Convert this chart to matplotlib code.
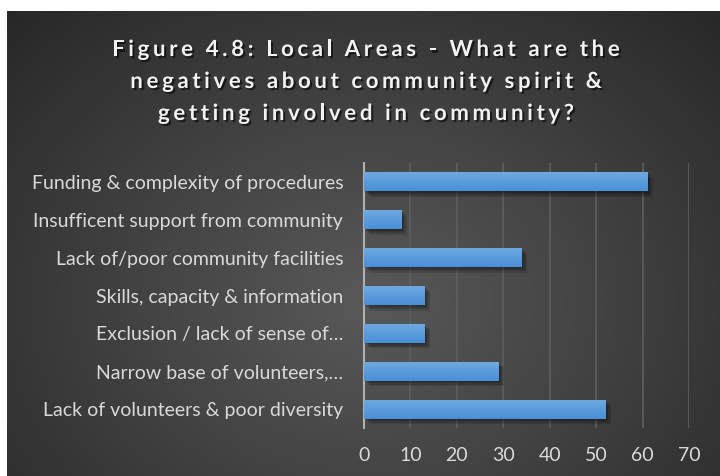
import matplotlib.pyplot as plt
import matplotlib.patheffects as pe
import numpy as np

categories = [
    "Funding & complexity of procedures",
    "Insufficent support from community",
    "Lack of/poor community facilities",
    "Skills, capacity & information",
    "Exclusion / lack of sense of…",
    "Narrow base of volunteers,…",
    "Lack of volunteers & poor diversity",
]
values = [61, 8, 34, 13, 13, 29, 52]
x_ticks = [0, 10, 20, 30, 40, 50, 60, 70]
title_lines = [
    "Figure 4.8: Local Areas - What are the",
    "negatives about community spirit &",
    "getting involved in community?",
]

plt.rcParams['font.family'] = ['Lato', 'DejaVu Sans']

W, H = 720, 476
fig = plt.figure(figsize=(W / 100, H / 100), dpi=100, facecolor='white')

# dark radial gradient panel
bg = fig.add_axes([7 / W, 0, (W - 7) / W, (H - 11) / H])
gy, gx = np.mgrid[0:465, 0:713]
r = np.hypot((gx - 360) / 520, (gy - 290) / 420)
shade = np.clip(0.35 - 0.2 * r, 0.15, 0.35)
bg.imshow(np.dstack([shade] * 3), aspect='auto', interpolation='bilinear')
bg.axis('off')

ax = fig.add_axes([364 / W, 48 / H, 325 / W, 265 / H])
ax.set_facecolor('none')
ypos = np.arange(len(categories))
soft = [pe.SimplePatchShadow(offset=(d, -d), shadow_rgbFace='black', alpha=0.13) for d in (1, 2, 3, 4)]
bars = ax.barh(ypos, values, height=0.5, color='#5b9bd5', zorder=3,
               path_effects=soft + [pe.Normal()])
# soft top-to-bottom shading on each bar
grad = np.linspace(0, 1, 50)[:, None]
blue = np.array([0.43, 0.66, 0.88]) * (1 - grad[..., None]) + np.array([0.29, 0.56, 0.84]) * grad[..., None]
for b in bars:
    img = ax.imshow(np.repeat(blue, 2, axis=1), aspect='auto', zorder=4,
                    extent=[0, b.get_width(), b.get_y() + b.get_height(), b.get_y()])
    img.set_clip_path(b)

ax.set_xlim(0, 70)
ax.set_ylim(len(categories) - 0.5, -0.5)
ax.set_xticks(x_ticks)
ax.set_yticks(ypos)
ax.set_yticklabels(categories)
ax.xaxis.grid(True, color='#5e5e5e', linewidth=1.2, zorder=0)
ax.set_axisbelow(True)
for s in ['top', 'right', 'bottom']:
    ax.spines[s].set_visible(False)
ax.spines['left'].set_color('#b0b0b0')
ax.spines['left'].set_linewidth(1.5)
ax.tick_params(axis='both', length=0, colors='#d9d9d9', labelsize=14)
ax.tick_params(axis='y', pad=15)
ax.tick_params(axis='x', pad=14)

# letter-spaced title with drop shadow
renderer = fig.canvas.get_renderer()
def char_width(ch, **kw):
    if ch == ' ':
        return char_width('a a', **kw) - char_width('aa', **kw)
    t = fig.text(0, 0, ch, **kw)
    w = t.get_window_extent(renderer).width
    t.remove()
    return w

tkw = dict(fontsize=16, fontweight='bold')
spacing = 3.6
shadow = [pe.SimplePatchShadow(offset=(1.5, -1.5), shadow_rgbFace='black', alpha=0.55), pe.Normal()]
for line, base in zip(title_lines, [56, 88, 120]):
    widths = [char_width(c, **tkw) for c in line]
    total = sum(widths) + spacing * (len(line) - 1)
    x = 366 - total / 2
    for c, w in zip(line, widths):
        if c != ' ':
            fig.text(x / W, 1 - base / H, c, color='#f2f2f2', va='baseline', ha='left',
                     path_effects=shadow, **tkw)
        x += w + spacing

fig.savefig('out.png', dpi=100, facecolor=fig.get_facecolor())
